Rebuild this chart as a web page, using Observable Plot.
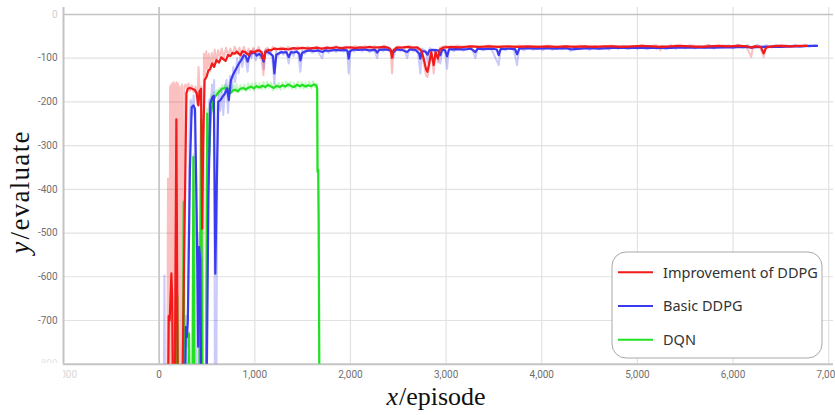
<!DOCTYPE html>
<html><head><meta charset="utf-8">
<script src="https://cdn.jsdelivr.net/npm/d3@7"></script>
<script src="https://cdn.jsdelivr.net/npm/@observablehq/plot@0.6"></script>
<style>body{margin:0;background:#fff} svg{overflow:hidden}</style>
</head><body><div id="chart"></div>
<script>
// ---------- data (episode, evaluate) ----------
const xTicks = [0, 1000, 2000, 3000, 4000, 5000, 6000, 7000];
const xEdgeTick = [-1000];
const yTicks = [-100, -200, -300, -400, -500, -600, -700];
const yTopTick = [0];
const yBottomTick = [-800];

const seriesNames = ["Improvement of DDPG", "Basic DDPG", "DQN"];
const seriesColors = ["#f21a1a", "#3a3aef", "#22e022"];

const redSmooth = [[92,-900],[100,-690],[110,-700],[120,-640],[128,-592],[136,-650],[145,-900],[162,-900],[180,-240],[195,-900],[240,-900],[285,-180],[300,-170],[320,-168],[345,-170],[370,-172],[392,-180],[410,-208],[422,-176],[438,-170],[450,-490],[460,-300],[475,-150],[495,-143],[515,-128],[535,-124],[555,-112],[575,-120],[600,-104],[625,-110],[650,-98],[670,-102],[695,-106],[720,-93],[745,-95],[765,-88],[790,-90],[810,-85],[835,-90],[850,-93],[870,-84],[900,-86],[937,-93],[960,-84],[990,-87],[1020,-83],[1045,-82],[1070,-86],[1094,-104],[1112,-85],[1140,-81],[1170,-82],[1200,-78],[1250,-79],[1300,-78],[1350,-80],[1400,-77],[1450,-78],[1500,-76],[1550,-78],[1600,-77],[1650,-76],[1700,-78],[1750,-76],[1800,-77],[1850,-75],[1900,-77],[1950,-76],[2000,-75],[2050,-77],[2100,-75],[2150,-76],[2200,-74],[2250,-76],[2300,-75],[2350,-74],[2400,-76],[2420,-80],[2435,-99],[2450,-82],[2480,-76],[2550,-75],[2600,-74],[2650,-76],[2700,-75],[2740,-82],[2765,-100],[2790,-125],[2805,-131],[2825,-110],[2845,-86],[2870,-116],[2890,-86],[2915,-101],[2935,-80],[2970,-76],[3050,-74],[3150,-75],[3250,-73],[3350,-74],[3450,-73],[3550,-74],[3650,-73],[3750,-74],[3850,-73],[3950,-74],[4050,-73],[4150,-74],[4250,-73],[4350,-74],[4450,-73],[4550,-74],[4650,-73],[4750,-73],[4850,-74],[4950,-73],[5050,-72],[5150,-73],[5250,-74],[5350,-73],[5450,-72],[5550,-73],[5650,-74],[5750,-73],[5850,-72],[5950,-73],[6050,-72],[6150,-73],[6190,-76],[6230,-73],[6290,-74],[6320,-89],[6345,-76],[6400,-73],[6500,-72],[6600,-73],[6700,-72],[6773,-72]];

const redRaw = [[85,-900],[92,-375],[96,-900],[104,-430],[108,-900],[114,-165],[120,-900],[128,-160],[134,-900],[140,-158],[146,-900],[152,-155],[158,-900],[166,-160],[172,-900],[180,-155],[188,-900],[196,-158],[205,-900],[215,-165],[225,-900],[238,-160],[250,-900],[262,-165],[275,-160],[290,-170],[305,-158],[320,-175],[340,-162],[360,-178],[380,-165],[398,-205],[412,-120],[425,-180],[440,-165],[447,-900],[458,-900],[468,-90],[480,-140],[492,-84],[505,-125],[520,-90],[535,-130],[550,-88],[565,-118],[580,-80],[600,-110],[615,-82],[635,-98],[655,-78],[675,-100],[700,-76],[720,-96],[745,-78],[770,-92],[790,-74],[815,-90],[840,-76],[860,-95],[885,-74],[910,-90],[935,-78],[960,-95],[985,-76],[1010,-88],[1040,-74],[1065,-90],[1090,-139],[1105,-82],[1130,-76],[1160,-84],[1190,-74],[1230,-82],[1270,-75],[1310,-82],[1350,-74],[1400,-81],[1450,-74],[1500,-80],[1550,-74],[1600,-82],[1650,-73],[1700,-80],[1750,-74],[1800,-79],[1850,-72],[1900,-80],[1950,-73],[2000,-78],[2050,-72],[2100,-79],[2150,-72],[2200,-77],[2250,-72],[2300,-78],[2350,-71],[2400,-78],[2420,-85],[2435,-135],[2450,-80],[2500,-73],[2560,-77],[2620,-72],[2680,-77],[2740,-85],[2765,-110],[2790,-140],[2805,-143],[2825,-118],[2845,-80],[2870,-135],[2890,-80],[2915,-110],[2935,-76],[2990,-72],[3050,-76],[3120,-71],[3200,-75],[3280,-72],[3360,-76],[3440,-71],[3520,-74],[3600,-72],[3680,-76],[3760,-71],[3840,-74],[3920,-72],[4000,-75],[4080,-71],[4160,-76],[4240,-72],[4320,-74],[4400,-71],[4480,-75],[4560,-72],[4640,-76],[4720,-71],[4800,-74],[4880,-72],[4960,-75],[5040,-71],[5120,-74],[5200,-70],[5240,-82],[5260,-72],[5340,-74],[5420,-70],[5500,-75],[5580,-71],[5660,-74],[5740,-70],[5820,-75],[5900,-71],[5980,-74],[6060,-70],[6140,-74],[6190,-97],[6210,-72],[6280,-74],[6320,-97],[6345,-72],[6420,-74],[6500,-70],[6580,-74],[6660,-71],[6740,-73],[6773,-71]];

const blueSmooth = [[268,-900],[280,-715],[290,-738],[300,-700],[322,-350],[340,-212],[358,-208],[375,-216],[392,-450],[408,-760],[418,-532],[430,-560],[440,-900],[495,-900],[515,-420],[535,-204],[555,-190],[572,-186],[587,-593],[600,-420],[618,-200],[640,-196],[660,-189],[685,-182],[711,-169],[728,-196],[750,-150],[770,-139],[795,-128],[815,-120],[840,-110],[860,-104],[885,-93],[905,-95],[925,-108],[950,-90],[975,-88],[995,-86],[1020,-94],[1045,-90],[1070,-95],[1093,-108],[1111,-85],[1140,-86],[1165,-90],[1190,-95],[1205,-135],[1225,-92],[1250,-89],[1280,-86],[1303,-87],[1330,-86],[1355,-97],[1380,-86],[1407,-87],[1440,-85],[1465,-90],[1477,-105],[1495,-88],[1530,-84],[1582,-82],[1620,-84],[1660,-82],[1704,-86],[1740,-82],[1790,-83],[1840,-81],[1900,-82],[1950,-81],[1970,-84],[1982,-101],[1995,-84],[2030,-80],[2080,-81],[2139,-80],[2200,-82],[2260,-81],[2279,-87],[2300,-81],[2350,-80],[2400,-81],[2452,-86],[2480,-80],[2540,-81],[2592,-86],[2620,-80],[2680,-81],[2720,-90],[2731,-101],[2745,-84],[2785,-85],[2805,-92],[2825,-82],[2870,-81],[2915,-82],[2940,-93],[2960,-80],[2990,-82],[3010,-96],[3030,-80],[3100,-79],[3200,-80],[3260,-78],[3306,-86],[3330,-78],[3400,-79],[3480,-78],[3530,-80],[3550,-93],[3570,-79],[3650,-78],[3720,-79],[3742,-91],[3765,-78],[3850,-77],[3950,-78],[4050,-77],[4150,-78],[4250,-77],[4320,-80],[4400,-78],[4500,-77],[4600,-78],[4700,-77],[4800,-76],[4900,-77],[5000,-76],[5100,-77],[5200,-76],[5300,-77],[5400,-76],[5500,-75],[5600,-76],[5700,-75],[5800,-76],[5900,-75],[6000,-75],[6100,-74],[6200,-75],[6300,-74],[6400,-74],[6500,-74],[6600,-73],[6700,-73],[6800,-72],[6878,-72]];

const blueRaw = [[48,-900],[55,-597],[62,-900],[270,-900],[282,-690],[292,-760],[302,-650],[318,-250],[330,-195],[345,-230],[360,-185],[372,-240],[388,-900],[405,-900],[418,-500],[428,-900],[495,-900],[512,-300],[525,-195],[540,-215],[552,-160],[565,-200],[575,-150],[583,-900],[597,-900],[610,-210],[625,-175],[640,-220],[655,-170],[670,-230],[690,-165],[705,-150],[720,-225],[740,-140],[760,-175],[775,-120],[795,-155],[815,-100],[830,-135],[850,-92],[870,-120],[890,-85],[910,-110],[925,-131],[945,-84],[965,-100],[985,-80],[1010,-105],[1030,-82],[1055,-100],[1075,-85],[1095,-125],[1115,-80],[1140,-92],[1165,-82],[1185,-105],[1205,-158],[1222,-84],[1245,-95],[1270,-80],[1300,-92],[1325,-80],[1355,-112],[1375,-80],[1405,-95],[1430,-78],[1455,-92],[1477,-131],[1495,-82],[1525,-90],[1560,-76],[1600,-88],[1640,-76],[1680,-92],[1704,-100],[1730,-77],[1770,-88],[1810,-75],[1850,-86],[1890,-76],[1930,-85],[1965,-80],[1982,-135],[2000,-78],[2040,-85],[2080,-75],[2120,-84],[2160,-75],[2200,-86],[2240,-76],[2279,-100],[2300,-76],[2340,-84],[2380,-75],[2420,-85],[2452,-98],[2480,-75],[2520,-84],[2560,-76],[2592,-100],[2620,-76],[2660,-84],[2700,-77],[2731,-135],[2750,-78],[2790,-85],[2805,-110],[2830,-77],[2880,-84],[2940,-112],[2960,-76],[2990,-88],[3010,-124],[3030,-76],[3080,-84],[3130,-75],[3180,-83],[3230,-74],[3280,-83],[3306,-100],[3330,-74],[3380,-82],[3430,-74],[3480,-82],[3550,-116],[3570,-75],[3620,-82],[3670,-74],[3710,-83],[3742,-116],[3765,-74],[3810,-82],[3860,-74],[3910,-81],[3960,-73],[4010,-82],[4060,-73],[4110,-81],[4160,-74],[4210,-80],[4260,-73],[4300,-84],[4340,-73],[4400,-80],[4450,-72],[4500,-81],[4550,-72],[4600,-79],[4650,-73],[4700,-80],[4750,-72],[4800,-79],[4850,-71],[4900,-78],[4950,-72],[5000,-79],[5050,-71],[5100,-78],[5150,-72],[5200,-79],[5250,-71],[5300,-78],[5350,-70],[5400,-79],[5450,-71],[5500,-77],[5550,-70],[5600,-78],[5650,-71],[5700,-77],[5750,-70],[5800,-78],[5850,-71],[5900,-76],[5950,-70],[6000,-77],[6050,-69],[6100,-76],[6150,-70],[6200,-77],[6250,-69],[6300,-75],[6350,-70],[6400,-76],[6450,-69],[6500,-75],[6550,-70],[6600,-74],[6650,-69],[6700,-75],[6750,-69],[6800,-74],[6850,-70],[6878,-71]];

const greenSmooth = [[172,-900],[190,-645],[197,-900],[248,-900],[257,-430],[264,-900],[302,-900],[312,-730],[320,-900],[348,-900],[358,-326],[368,-900],[420,-900],[438,-240],[452,-900],[488,-900],[503,-227],[515,-364],[540,-230],[565,-196],[585,-188],[606,-182],[630,-176],[658,-170],[685,-168],[711,-169],[730,-175],[745,-180],[770,-174],[795,-172],[820,-176],[850,-170],[880,-168],[905,-172],[930,-168],[960,-165],[990,-169],[1020,-164],[1050,-167],[1080,-163],[1110,-166],[1140,-161],[1170,-165],[1200,-168],[1230,-163],[1260,-166],[1290,-162],[1320,-165],[1350,-160],[1380,-164],[1410,-166],[1440,-161],[1470,-164],[1500,-161],[1530,-165],[1560,-162],[1590,-164],[1620,-160],[1645,-163],[1652,-170],[1656,-360],[1663,-355],[1668,-480],[1676,-900]];

const greenRaw = [[172,-900],[190,-640],[197,-900],[248,-900],[257,-425],[264,-900],[302,-900],[312,-725],[320,-900],[348,-900],[358,-320],[368,-900],[420,-900],[438,-230],[452,-900],[488,-900],[500,-215],[510,-467],[520,-230],[532,-195],[545,-185],[558,-200],[570,-178],[585,-190],[600,-172],[615,-185],[630,-168],[645,-178],[660,-162],[675,-172],[690,-160],[705,-175],[720,-162],[735,-180],[750,-165],[765,-178],[780,-162],[795,-176],[810,-160],[830,-178],[850,-162],[870,-174],[890,-160],[910,-175],[930,-158],[950,-172],[970,-157],[990,-174],[1010,-156],[1030,-170],[1050,-158],[1070,-171],[1090,-155],[1110,-170],[1130,-154],[1150,-168],[1170,-156],[1190,-174],[1210,-158],[1230,-170],[1250,-156],[1270,-172],[1290,-155],[1310,-170],[1330,-154],[1350,-167],[1370,-155],[1390,-170],[1410,-157],[1430,-169],[1450,-154],[1470,-168],[1490,-155],[1510,-170],[1530,-156],[1550,-168],[1570,-154],[1590,-169],[1610,-153],[1630,-166],[1645,-158],[1652,-170],[1656,-360],[1663,-355],[1668,-480],[1676,-900]];

// ---------- chart ----------
const fmt = d => (d < 0 ? "-" : "") + d3.format(",")(Math.abs(d));
const lineOpts = (color, faint) => ({
  x: d => d[0], y: d => d[1], stroke: color,
  strokeWidth: faint ? 2 : 2.2, strokeOpacity: faint ? 0.27 : 1,
  strokeLinejoin: "round", clip: true
});
const axisStyle = {tickSize: 0, tickFormat: fmt, fontSize: 10};

const chart = Plot.plot({
  width: 835, height: 415,
  marginLeft: 63, marginRight: 2, marginTop: 7, marginBottom: 51.3,
  style: {background: "#fff", fontFamily: "Roboto, 'Noto Sans', sans-serif", fontSize: "10px"},
  x: {domain: [-1000, 7050], axis: null},
  y: {domain: [-800, 16], axis: null},
  marks: [
    Plot.gridX(xTicks, {stroke: "#e2e2e2", strokeOpacity: 1, strokeWidth: 1.2}),
    Plot.gridY(yTicks, {stroke: "#e2e2e2", strokeOpacity: 1, strokeWidth: 1.2}),
    Plot.ruleX([0], {stroke: "#c4c4c4", strokeWidth: 1.6}),
    Plot.ruleY(yTopTick, {stroke: "#c4c4c4", strokeWidth: 1.6}),
    Plot.ruleX(xEdgeTick, {stroke: "#c4c4c4", strokeWidth: 2}),
    Plot.ruleY(yBottomTick, {stroke: "#c4c4c4", strokeWidth: 2}),
    Plot.axisY(yTicks, {...axisStyle, tickPadding: 6, color: "#6f6f6f"}),
    Plot.axisY(yTopTick, {...axisStyle, tickPadding: 6, color: "#cfcfcf"}),
    Plot.axisY(yBottomTick, {...axisStyle, tickPadding: 6, color: "#e6e6e6"}),
    Plot.axisX(xTicks, {...axisStyle, tickPadding: 7, color: "#6f6f6f"}),
    Plot.axisX(xEdgeTick, {...axisStyle, tickPadding: 7, color: "#d8d8d8"}),
    Plot.line(greenRaw, lineOpts(seriesColors[2], true)),
    Plot.line(blueRaw, lineOpts(seriesColors[1], true)),
    Plot.line(redRaw, lineOpts(seriesColors[0], true)),
    Plot.line(greenSmooth, lineOpts(seriesColors[2], false)),
    Plot.line(blueSmooth, lineOpts(seriesColors[1], false)),
    Plot.line(redSmooth, lineOpts(seriesColors[0], false))
  ]
});
document.getElementById("chart").appendChild(chart);

// ---------- decorations: clipping of edge labels, titles, legend ----------
const svg = d3.select(chart);
const svgBox = chart.getBoundingClientRect();
svg.selectAll("text").each(function () {
  const t = this.textContent;
  const b = this.getBoundingClientRect();
  const left = b.left - svgBox.left, bottom = b.bottom - svgBox.top;
  if (t === "-1,000") {
    const cut = Math.max(0, 63 - left);
    this.style.clipPath = `inset(-2px -2px -2px ${cut}px)`;
  } else if (t === "-800") {
    const cut = Math.max(0, bottom - 363);
    this.style.clipPath = `inset(-2px -2px ${cut}px -2px)`;
  }
});

const serif = "'Liberation Serif', 'DejaVu Serif', serif";
const xt = svg.append("text").attr("x", 436).attr("y", 405)
  .attr("text-anchor", "middle").attr("fill", "#111")
  .style("font-family", serif).style("font-size", "26px");
xt.append("tspan").style("font-style", "italic").text("x");
xt.append("tspan").attr("dx", 1).text("/episode");

const yt = svg.append("text").attr("transform", "translate(29,192) rotate(-90)")
  .attr("text-anchor", "middle").attr("fill", "#111")
  .style("font-family", serif).style("font-size", "27px")
  .style("letter-spacing", "1.3px");
yt.append("tspan").style("font-style", "italic").text("y");
yt.append("tspan").attr("dx", 1).text("/evaluate");

const lg = svg.append("g").attr("text-anchor", "start");
lg.append("rect").attr("x", 612).attr("y", 252).attr("width", 210).attr("height", 106)
  .attr("rx", 14).attr("fill", "#fff").attr("stroke", "#a8a8a8").attr("stroke-width", 1);
seriesNames.forEach((name, i) => {
  const cy = 272.3 + i * 33.7;
  lg.append("line").attr("x1", 618).attr("x2", 653).attr("y1", cy).attr("y2", cy)
    .attr("stroke", seriesColors[i]).attr("stroke-width", 2);
  lg.append("text").attr("x", 663).attr("y", cy).attr("dy", "0.36em")
    .attr("text-anchor", "start")
    .attr("fill", "#333").style("font-family", "'Noto Sans', sans-serif")
    .style("font-size", "14.5px").text(name);
});
</script>
</body></html>
